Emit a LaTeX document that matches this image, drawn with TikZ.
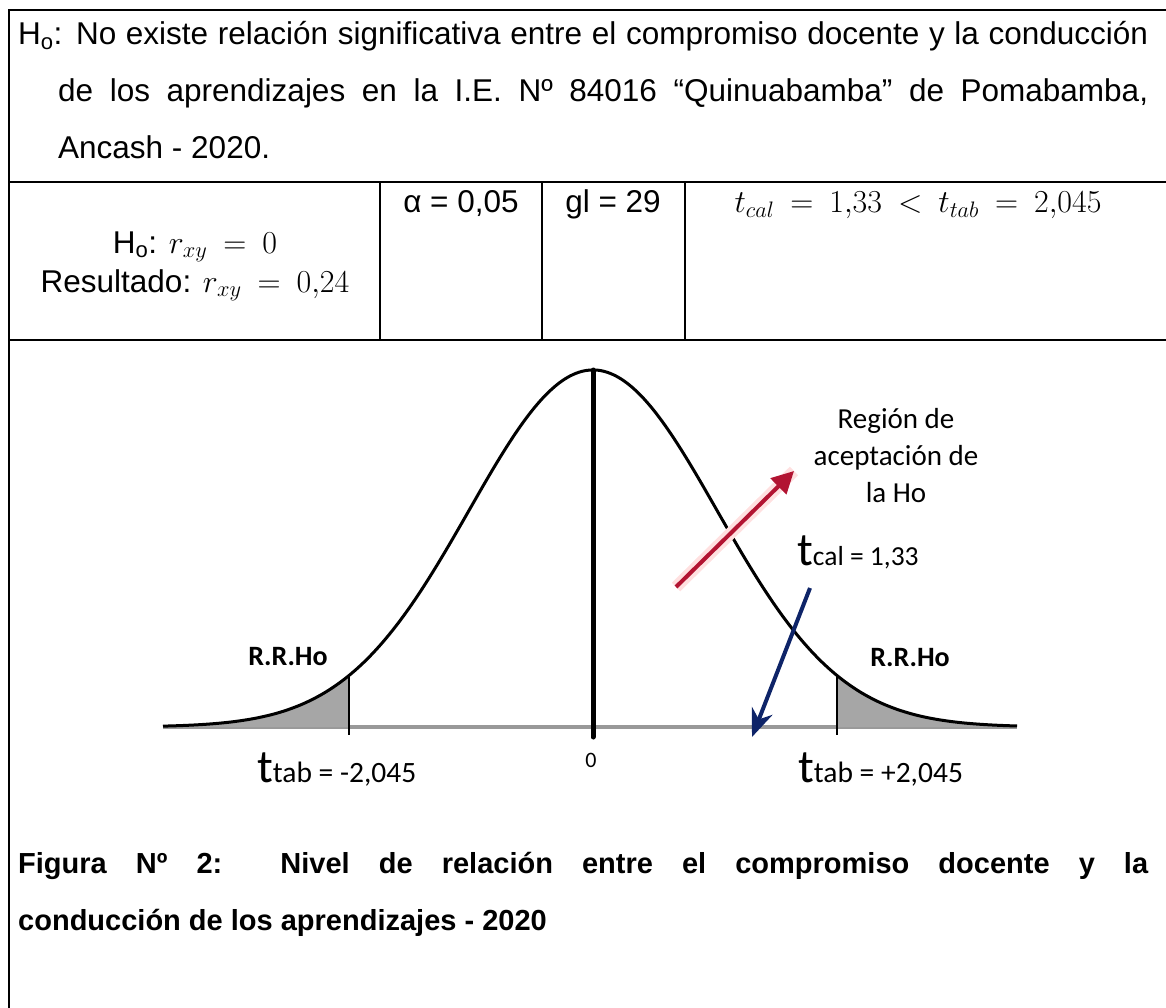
\RequirePackage{fix-cm}
\documentclass[tikz,border=0pt]{standalone}
\usepackage{fontspec}
\setmainfont{Liberation Sans}
\newfontfamily\calibri{Carlito}
\usetikzlibrary{arrows.meta}
\definecolor{arrowred}{RGB}{178,20,50}
\definecolor{arrowblue}{RGB}{14,36,104}
\def\bell#1{727-357*exp(-0.5*((#1-593)/124)^2)}
\def\bigt{{\fontsize{47}{47}\selectfont t}}
\def\mth#1{{\fontsize{32}{38}\selectfont\thickmuskip=9mu$#1$}}

\begin{document}
\begin{tikzpicture}[x=1pt,y=-1pt,
  frame/.style={line width=2.7pt},
  txt/.style={inner sep=0pt,font=\fontsize{31.5}{38}\selectfont},
  captxt/.style={inner sep=0pt,font=\fontsize{29}{34}\selectfont\bfseries},
  cal/.style={inner sep=0pt,font=\calibri\fontsize{29}{37}\selectfont},
  calbold/.style={cal,font=\calibri\fontsize{28}{37}\selectfont\bfseries},
  curve/.style={line width=3pt},
  tail/.style={fill=black!35}]
\useasboundingbox (0,0) rectangle (1166,1008);

%%%%% TABLE %%%%%
\draw[frame] (9,1008) -- (9,10) -- (1166,10);
\draw[frame] (9,182) -- (1166,182);
\draw[frame] (9,340) -- (1166,340);
\draw[frame] (380,182) -- (380,340);
\draw[frame] (542,182) -- (542,340);
\draw[frame] (685,182) -- (685,340);

\node[txt,anchor=base west] (hyp1) at (18,45) {\makebox[1130pt][s]{H\textsubscript{o}: No existe relación significativa entre el compromiso docente y la conducción}};
\node[txt,anchor=base west] (hyp2) at (58,102) {\makebox[1090pt][s]{de los aprendizajes en la I.E. Nº 84016 “Quinuabamba” de Pomabamba,}};
\node[txt,anchor=base west] (hyp3) at (58,159) {Ancash - 2020.};

\node[txt,anchor=base] (rnull) at (195,253) {H\textsubscript{o}: \mth{r_{xy}=0}};
\node[txt,anchor=base] (rres) at (195,292) {Resultado: \mth{r_{xy}=0{,}24}};
\node[txt,anchor=base] (alpha) at (461,213) {α = 0,05};
\node[txt,anchor=base] (gl) at (613,213) {gl = 29};
\node[txt,anchor=base] (tcomp) at (918,213) {\mth{t_{cal}=1{,}33<t_{tab}=2{,}045}};

%%%%% CURVE %%%%%
\draw[line width=4pt,black!40] (163,727) -- (1017,727);
\fill[tail] (163,727) -- plot[domain=163:349,samples=40] (\x,{\bell{\x}}) -- (349,727) -- cycle;
\fill[tail] (837,727) -- plot[domain=837:1017,samples=40] (\x,{\bell{\x}}) -- (1017,727) -- cycle;
\draw[curve] plot[domain=163:1017,samples=150,smooth] (\x,{\bell{\x}});
\draw[line width=1.5pt] (349,{\bell{349}}) -- (349,735);
\draw[line width=1.5pt] (837,{\bell{837}}) -- (837,735);
\draw[line width=5pt,line cap=round] (593,370) -- (593,737);

\node[calbold] (rrleft) at (288,657) {R.R.Ho};
\node[calbold] (rrright) at (910,658) {R.R.Ho};
\node[cal,anchor=base west,font=\calibri\fontsize{29.5}{37}\selectfont] (ttabl) at (257,782) {\bigt tab = -2,045};
\node[cal,anchor=base west,font=\calibri\fontsize{29.5}{37}\selectfont] (ttabr) at (798,782) {\bigt tab = +2,045};
\node[cal,font=\calibri\fontsize{22}{22}\selectfont] (zero) at (591,760) {0};
\node[cal,anchor=base west,font=\calibri\fontsize{27.5}{37}\selectfont] (tcal) at (797,565) {\bigt cal = 1,33};
\node[cal,align=center] (accept) at (896,456) {Región de\\aceptación de\\la Ho};

%%%%% ARROWS %%%%%
\coordinate (redtail) at (676,587);
\coordinate (redtip) at (794,471);
\coordinate (bluetail) at (810,588);
\coordinate (bluetip) at (752,737);
\draw[line width=12pt,red!12] (redtail) -- (redtip);
\draw[line width=4pt,arrowred,-{Triangle[length=22pt,width=22pt]}] (redtail) -- (redtip);
\draw[line width=4pt,arrowblue,-{Stealth[length=28pt,width=22pt]}] (bluetail) -- (bluetip);

\node[captxt,anchor=base west] (cap1) at (18,873) {\makebox[1130pt][s]{Figura Nº 2:\ \ Nivel de relación entre el compromiso docente y la}};
\node[captxt,anchor=base west] (cap2) at (18,930) {conducción de los aprendizajes - 2020};

\end{tikzpicture}
\end{document}
